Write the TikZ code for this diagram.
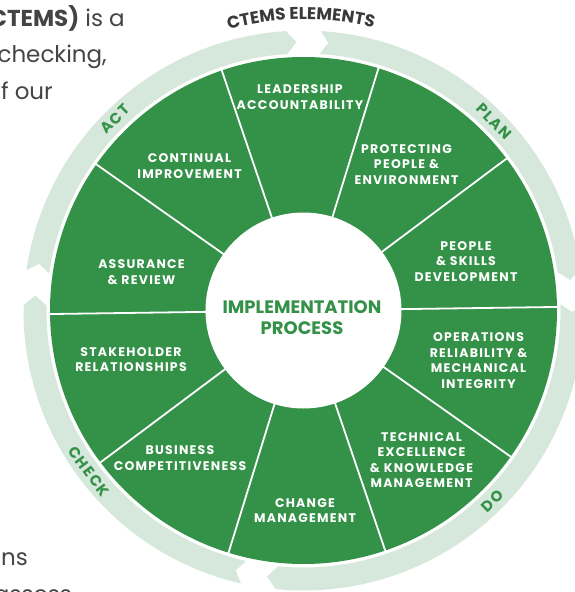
\documentclass[tikz,border=0pt]{standalone}
\usepackage{fontspec}
\setmainfont{Poppins}
\newfontfamily\labfont[LetterSpace=10]{Poppins}
\usetikzlibrary{decorations.text}
\definecolor{cgreen}{RGB}{52,145,72}
\definecolor{cring}{RGB}{214,232,219}
\definecolor{cgray}{RGB}{58,58,58}
\definecolor{ctext}{RGB}{68,68,68}
\def\Ri{257pt}
\def\Ro{280pt}
\def\Rm{268.5pt}
\newcommand\ringarrow[2]{%
  \fill[cring] (#1:\Ro) arc[start angle=#1, end angle=#2, radius=\Ro]
    -- (#2-2.1:\Rm) -- (#2:\Ri) arc[start angle=#2, end angle=#1, radius=\Ri]
    -- (#1-1.7:\Rm) -- cycle;}
\tikzset{
  seclabel/.style={text=white, align=center, inner sep=0pt,
    font=\labfont\bfseries\fontsize{12.5}{15.5}\selectfont},
  ringlabel/.style={text=cgreen, inner sep=0pt,
    font=\labfont\bfseries\fontsize{15}{15}\selectfont},
  sidetext/.style={text=ctext, inner sep=0pt, anchor=base east,
    font=\fontsize{23}{23}\selectfont},
  secline/.style={white, line width=1.8pt}
}
\begin{document}
\begin{tikzpicture}[x=1pt,y=1pt]
\useasboundingbox (-303.5,-281.5) rectangle (271.5,310.5);
\clip (-303.5,-281.5) rectangle (271.5,310.5);
% side text (cropped paragraph)
\node[sidetext] (t1) at (-178.5,283.5) {\textbf{(CTEMS)} is a};
\node[sidetext] (t2) at (-196.5,247.5) {checking,};
\node[sidetext] (t3) at (-250.5,210.5) {of our};
\node[sidetext] (t4) at (-275.5,-254.5) {actions};
\node[sidetext] (t5) at (-231.5,-291.5) {assess};
% ring arrows
\ringarrow{86.4}{8.6}
\ringarrow{1.4}{-95.7}
\ringarrow{257.1}{178.9}
\ringarrow{171.7}{93.6}
% ring labels
\node[ringlabel, rotate=-45.2] (plan) at (44.8:\Rm) {PLAN};
\node[ringlabel, rotate=44.7] (do) at (-45.3:\Rm) {DO};
\node[ringlabel, rotate=-53.1] (check) at (216.9:\Rm) {CHECK};
\node[ringlabel, rotate=44.5] (act) at (134.5:\Rm) {ACT};
% title along arc
\path[decorate, decoration={text along path, text align=center,
  text={|\bfseries\fontsize{17}{17}\selectfont\color{cgray}|CTEMS ELEMENTS}}]
  (125.5:291pt) arc[start angle=125.5, end angle=55.5, radius=291pt];
% disc
\fill[cgreen] (0,0) circle[radius=253.5pt];
\foreach \a in {0.8,36.8,...,324.8}
  \draw[secline] (\a:96pt) -- (\a:255pt);
\fill[white] (0,0) circle[radius=98pt];
% sector labels
\node[seclabel] (lead) at (-3.5,213.5) {LEADERSHIP\\ACCOUNTABILITY};
\node[seclabel] (prot) at (103,146) {PROTECTING\\PEOPLE \&\\ENVIRONMENT};
\node[seclabel] (peop) at (162.5,49) {PEOPLE\\\& SKILLS\\DEVELOPMENT};
\node[seclabel] (oper) at (175,-50) {OPERATIONS\\RELIABILITY \&\\MECHANICAL\\INTEGRITY};
\node[seclabel] (tech) at (118,-149.5) {TECHNICAL\\EXCELLENCE\\\& KNOWLEDGE\\MANAGEMENT};
\node[seclabel] (chan) at (1.5,-200) {CHANGE\\MANAGEMENT};
\node[seclabel] (busi) at (-123.5,-147.5) {BUSINESS\\COMPETITIVENESS};
\node[seclabel] (stak) at (-172.5,-49) {STAKEHOLDER\\RELATIONSHIPS};
\node[seclabel] (assu) at (-162,38.5) {ASSURANCE\\\& REVIEW};
\node[seclabel] (cont) at (-114,144.5) {CONTINUAL\\IMPROVEMENT};
% centre
\node[text=cgreen, align=center, inner sep=0pt,
  font=\bfseries\fontsize{18}{21}\selectfont] (impl) at (-1.5,-7)
  {IMPLEMENTATION\\PROCESS};
\end{tikzpicture}
\end{document}
